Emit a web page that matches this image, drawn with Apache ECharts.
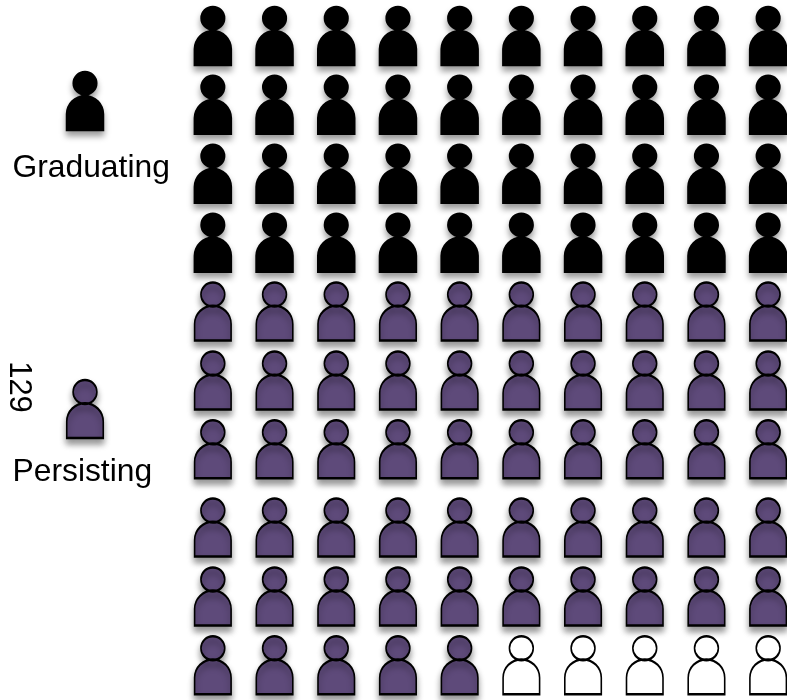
<!DOCTYPE html>
<html>
<head>
<meta charset="utf-8">
<style>html,body{margin:0;padding:0;background:#fff;overflow:hidden}#c{width:787px;height:700px}</style>
<script src="https://cdn.jsdelivr.net/npm/echarts@6/dist/echarts.min.js"></script>
</head>
<body>
<div id="c"></div>
<script>
const groups = ['Graduating', 'Persisting', 'Other'];
const columns = ['1','2','3','4','5','6','7','8','9','10'];
const upperRowNames = ['r1','r2','r3','r4','r5','r6','r7'];
const lowerRowNames = ['r8','r9','r10'];
const upperRows = [
  [0,0,0,0,0,0,0,0,0,0],
  [0,0,0,0,0,0,0,0,0,0],
  [0,0,0,0,0,0,0,0,0,0],
  [0,0,0,0,0,0,0,0,0,0],
  [1,1,1,1,1,1,1,1,1,1],
  [1,1,1,1,1,1,1,1,1,1],
  [1,1,1,1,1,1,1,1,1,1]
];
const lowerRows = [
  [1,1,1,1,1,1,1,1,1,1],
  [1,1,1,1,1,1,1,1,1,1],
  [1,1,1,1,1,2,2,2,2,2]
];
const keyGroups = ['Graduating', 'Persisting'];
const sideNote = '129';

const person = 'path://M19 0A12.4 12.4 0 1 1 18.99 0ZM0 60V43A19 19 0 0 1 38 43V60Z';
const fills = ['#000000', '#5E4A7A', '#FFFFFF'];
function markStyle(g) {
  return {
    color: fills[g],
    opacity: 1,
    borderColor: '#000',
    borderWidth: g === 0 ? 0 : 2,
    shadowColor: g === 2 ? 'rgba(0,0,0,0)' : 'rgba(0,0,0,0.4)',
    shadowBlur: 6,
    shadowOffsetY: 5
  };
}
function sizeOf(g) { return g === 0 ? [38.5, 60.5] : [36.5, 58]; }

const series = [];
function addRows(rows, gridIndex) {
  groups.forEach((name, g) => {
    const pts = [];
    rows.forEach((row, r) => row.forEach((v, c) => { if (v === g) pts.push([c, r]); }));
    if (!pts.length) return;
    series.push({
      type: 'scatter', name, xAxisIndex: gridIndex, yAxisIndex: gridIndex,
      data: pts, symbol: person, symbolSize: sizeOf(g), symbolKeepAspect: false,
      itemStyle: markStyle(g), clip: false, silent: true
    });
  });
}
addRows(upperRows, 0);
addRows(lowerRows, 1);

keyGroups.forEach((name, i) => {
  series.push({
    type: 'scatter', name: name + ' key', xAxisIndex: 2, yAxisIndex: 2,
    data: [[0, i]], symbol: person, symbolSize: sizeOf(i), itemStyle: markStyle(i),
    clip: false, silent: true,
    label: {
      show: true, position: 'bottom', formatter: name, align: 'left', distance: 0,
      offset: [-72.5, i === 0 ? 21 : 17],
      fontFamily: 'Liberation Sans', fontSize: 31.8, color: '#000'
    }
  });
});

function cat(data, gridIndex, inverse) {
  return { type: 'category', data, gridIndex, show: false, inverse: !!inverse, boundaryGap: true };
}
const chart = echarts.init(document.getElementById('c'), null, { renderer: 'canvas' });
chart.setOption({
  animation: false,
  backgroundColor: '#fff',
  grid: [
    { left: 182, width: 617, top: 1.5, height: 482.3, outerBoundsMode: 'none' },
    { left: 182, width: 617, top: 493.2, height: 206.4, outerBoundsMode: 'none' },
    { left: 55, width: 60, top: -53, height: 616, outerBoundsMode: 'none' }
  ],
  xAxis: [cat(columns, 0), cat(columns, 1), cat(['key'], 2)],
  yAxis: [cat(upperRowNames, 0, true), cat(lowerRowNames, 1, true), cat(keyGroups, 2, true)],
  series,
  graphic: [{
    type: 'text', x: 19, y: 387, rotation: -Math.PI / 2,
    style: { text: sideNote, fontFamily: 'Liberation Sans', fontSize: 31, fill: '#000', align: 'center', verticalAlign: 'middle' }
  }]
});
</script>
</body>
</html>
